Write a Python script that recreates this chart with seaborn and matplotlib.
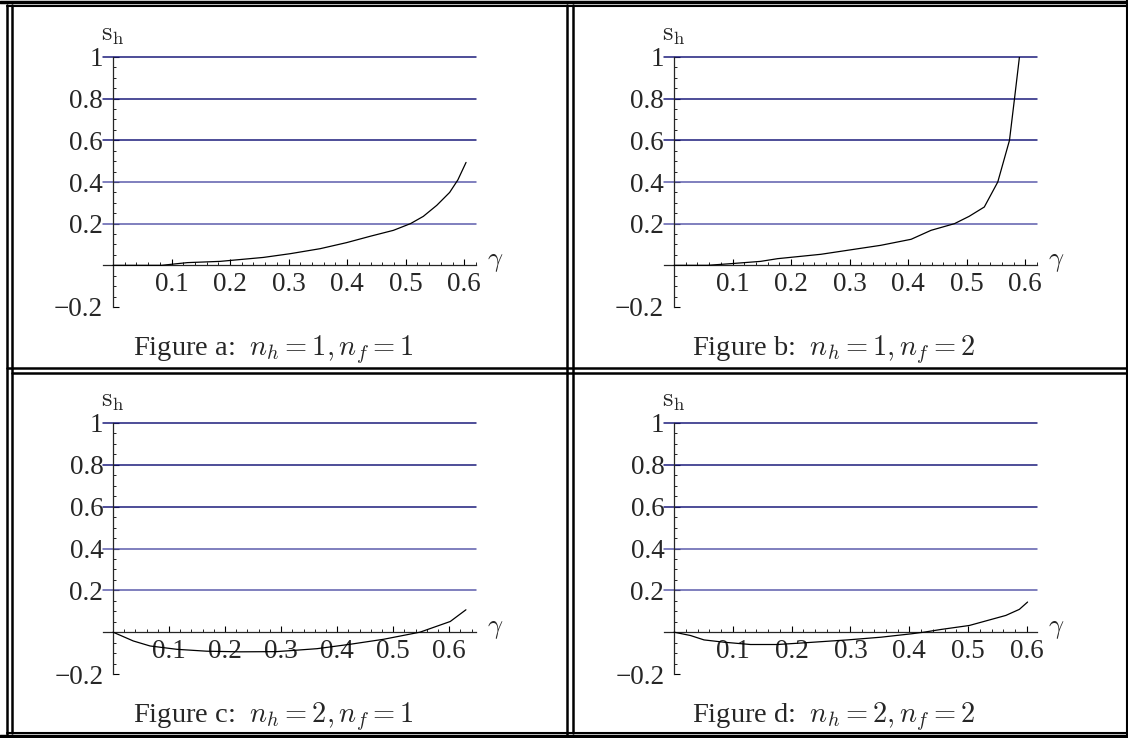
# Four panels of s_h against gamma, laid out like the boxed figure

import matplotlib.pyplot as plt
import seaborn as sns
import pandas as pd
from matplotlib.lines import Line2D
from matplotlib.ticker import MultipleLocator

sns.set_style("white")
plt.rcParams['font.family'] = ['Liberation Serif', 'DejaVu Serif']
plt.rcParams['mathtext.fontset'] = 'cm'

# curves
gamma_a = [0.0, 0.083, 0.127, 0.183, 0.257, 0.303, 0.354, 0.399, 0.440, 0.479, 0.508, 0.530, 0.553, 0.575, 0.589, 0.603]
sh_a = [0.0, 0.0, 0.013, 0.019, 0.038, 0.056, 0.080, 0.109, 0.140, 0.168, 0.200, 0.235, 0.288, 0.350, 0.410, 0.494]

gamma_b = [0.0, 0.057, 0.097, 0.148, 0.177, 0.251, 0.296, 0.353, 0.405, 0.439, 0.479, 0.504, 0.530, 0.553, 0.573, 0.582, 0.590]
sh_b = [0.0, 0.0, 0.008, 0.019, 0.032, 0.053, 0.072, 0.096, 0.125, 0.168, 0.200, 0.235, 0.280, 0.400, 0.600, 0.810, 1.0]

gamma_c = [0.0, 0.036, 0.066, 0.114, 0.167, 0.226, 0.292, 0.364, 0.423, 0.483, 0.548, 0.602, 0.630]
sh_c = [0.0, -0.042, -0.066, -0.082, -0.091, -0.094, -0.093, -0.079, -0.058, -0.034, 0.0, 0.051, 0.107]

gamma_d = [0.0, 0.028, 0.051, 0.085, 0.130, 0.176, 0.221, 0.295, 0.352, 0.403, 0.425, 0.454, 0.502, 0.533, 0.564, 0.587, 0.601]
sh_d = [0.0, -0.016, -0.037, -0.048, -0.059, -0.059, -0.051, -0.037, -0.024, -0.008, 0.0, 0.013, 0.032, 0.056, 0.080, 0.109, 0.144]

captions = ["Figure a:  $n_h = 1, n_f = 1$", "Figure b:  $n_h = 1, n_f = 2$",
            "Figure c:  $n_h = 2, n_f = 1$", "Figure d:  $n_h = 2, n_f = 2$"]
grid_levels = [1.0, 0.8, 0.6, 0.4, 0.2]
grid_colors = ['#1c1c7c', '#1c1c7c', '#1c1c7c', '#5c5cac', '#5c5cac']
x_ticks = [0.1, 0.2, 0.3, 0.4, 0.5, 0.6]
y_ticks = [-0.2, 0.2, 0.4, 0.6, 0.8, 1.0]
y_labels = ['\u22120.2', '0.2', '0.4', '0.6', '0.8', '1']

W, H = 1128, 738
fig = plt.figure(figsize=(W / 100, H / 100), dpi=100)

# pixel boxes: left, right, top, bottom, and x limits
panels = [
    (103, 476, 57, 307, (-0.017, 0.62), gamma_a, sh_a, 273, 350),
    (664, 1037, 57, 307, (-0.017, 0.62), gamma_b, sh_b, 834, 350),
    (103, 476, 423, 674, (-0.018, 0.648), gamma_c, sh_c, 273, 717),
    (664, 1037, 423, 674, (-0.017, 0.617), gamma_d, sh_d, 834, 717),
]

for i, (l, r, t, b, xl, gx, gy, cx, cy) in enumerate(panels):
    ax = fig.add_axes([l / W, 1 - b / H, (r - l) / W, (b - t) / H])
    ax.set_xlim(*xl)
    ax.set_ylim(-0.2, 1.0)
    for lev, col in zip(grid_levels, grid_colors):
        ax.axhline(lev, color=col, lw=1.1, zorder=1, clip_on=False)
    df = pd.DataFrame({'gamma': gx, 'sh': gy})
    sns.lineplot(data=df, x='gamma', y='sh', ax=ax, color='black', lw=0.9,
                 sort=False, estimator=None, zorder=3)
    ax.set_xlabel('')
    ax.set_ylabel('')
    ax.patch.set_alpha(0)

    for s in ['top', 'right']:
        ax.spines[s].set_visible(False)
    ax.spines['left'].set_position(('data', 0))
    ax.spines['bottom'].set_position(('data', 0))
    ax.spines['left'].set_linewidth(0.9)
    ax.spines['bottom'].set_linewidth(0.9)

    ax.set_xticks(x_ticks)
    ax.set_xticklabels([f'{v:.1f}' for v in x_ticks])
    ax.set_yticks(y_ticks)
    ax.set_yticklabels(y_labels)
    ax.xaxis.set_minor_locator(MultipleLocator(0.02))
    ax.yaxis.set_minor_locator(MultipleLocator(0.05))
    ax.tick_params(axis='both', which='both', bottom=True, left=True, top=False, right=False)
    ax.tick_params(axis='both', which='major', direction='in', length=4.5, width=0.8,
                   labelsize=19.5, color='black')
    ax.tick_params(axis='x', which='major', pad=5)
    ax.tick_params(axis='y', which='major', pad=7)
    ax.tick_params(axis='both', which='minor', direction='in', length=2.2, width=0.6, color='black')

    ax.annotate(r'$\mathrm{s_h}$', xy=(0, 1), xycoords=('data', 'axes fraction'),
                xytext=(0, 15), textcoords='offset points', ha='center', va='center',
                fontsize=19, annotation_clip=False)
    ax.annotate(r'$\gamma$', xy=(1, 0), xycoords=('axes fraction', 'data'),
                xytext=(8, 2), textcoords='offset points', ha='left', va='center',
                fontsize=19, annotation_clip=False)

    fig.text(cx / W, 1 - cy / H, captions[i], ha='center', va='center', fontsize=20.5)

# box rules around and between the panels
def hline(y, x0=0, x1=W, lw=1.5):
    fig.add_artist(Line2D([x0 / W, x1 / W], [1 - y / H, 1 - y / H], color='black', lw=lw))

def vline(x, y0=0, y1=H, lw=1.5):
    fig.add_artist(Line2D([x / W, x / W], [1 - y0 / H, 1 - y1 / H], color='black', lw=lw))

hline(1.5, lw=2.5)
hline(5.5, x0=7, lw=1.5)
hline(368, x0=7, lw=1.8)
hline(373, x0=12, lw=1.8)
hline(733, x0=7, lw=1.5)
hline(736, lw=2.5)
vline(7, y0=5, y1=735, lw=1.8)
vline(12, y0=5, y1=733, lw=1.8)
vline(567, y0=5, y1=735, lw=1.8)
vline(573, y0=5, y1=733, lw=1.8)
vline(1126.5, lw=1.5)

fig.savefig("out.png", dpi=100)
